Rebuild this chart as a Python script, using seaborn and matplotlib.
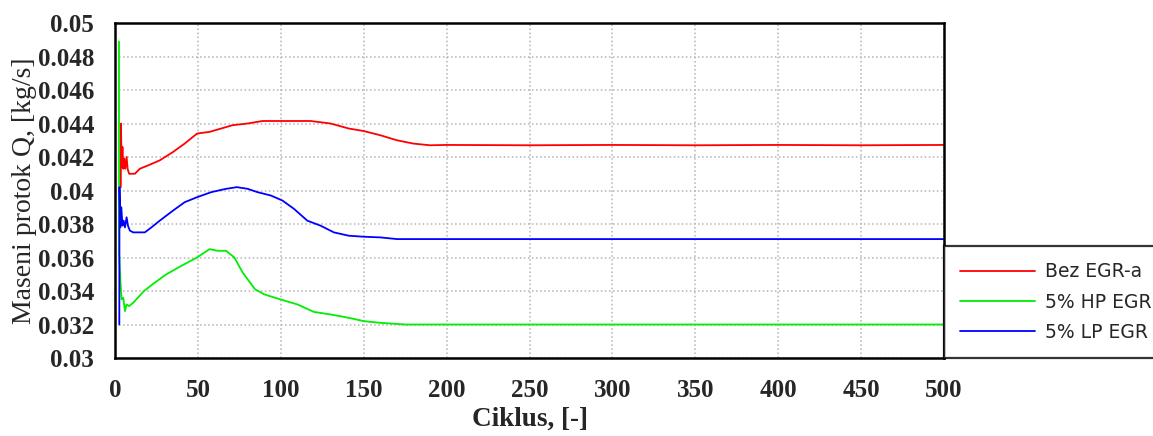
import numpy as np
import pandas as pd
import matplotlib
matplotlib.use("Agg")
import matplotlib.pyplot as plt
from matplotlib.ticker import MultipleLocator
import seaborn as sns

# ---- data ----
red_x = [3.5, 3.6, 4.0, 4.5, 5.0, 5.6, 6.2, 7.0, 7.6, 8.5, 10, 12, 15, 20, 27, 35, 42, 49.5, 57, 64, 71, 80,
         89, 100, 110, 118, 130, 141, 150, 160, 170, 180, 190, 200, 250, 300, 350, 400, 450, 500]
red_y = [0.0402, 0.0440, 0.0414, 0.0426, 0.0413, 0.0419, 0.0413, 0.0420, 0.0413, 0.0410, 0.0410, 0.0410, 0.0413,
         0.0415, 0.0418, 0.0423, 0.0428, 0.0434, 0.0435, 0.0437, 0.0439, 0.0440,
         0.04415, 0.04415, 0.04415, 0.04415, 0.0440, 0.0437, 0.04355, 0.0433, 0.0430, 0.0428, 0.0427, 0.04272,
         0.04270, 0.04272, 0.04270, 0.04272, 0.04270, 0.04272]

green_x = [2.4, 2.45, 2.5, 3.3, 4.0, 5.0, 6.0, 7.0, 8.5, 11, 17.5, 24, 31, 40, 49.5, 57, 62, 67, 72, 77, 84.5,
           90, 101, 110, 120, 130, 141, 150, 160, 175, 190, 200, 250, 300, 350, 400, 450, 500]
green_y = [0.0489, 0.0362, 0.0362, 0.0345, 0.0335, 0.0336, 0.0328, 0.0332, 0.0331, 0.0333, 0.0340, 0.0345,
           0.0350, 0.0355, 0.0360, 0.0365, 0.0364, 0.0364, 0.0360, 0.0351, 0.0341,
           0.0338, 0.03346, 0.0332, 0.03275, 0.0326, 0.0324, 0.0322, 0.0321, 0.0320, 0.0320, 0.0320,
           0.0320, 0.0320, 0.0320, 0.0320, 0.0320, 0.0320]

blue_x = [2.6, 2.7, 3.2, 3.8, 4.5, 5.2, 6.0, 7.0, 7.8, 9, 11, 15, 18, 22, 27, 35, 42, 49.5, 58, 67, 73.5, 80,
          86, 94, 101, 108, 116, 124, 132, 141, 150, 160, 170, 180, 200, 250, 300, 350, 400, 450, 500]
blue_y = [0.0320, 0.0402, 0.0378, 0.0390, 0.0379, 0.0382, 0.0378, 0.0384, 0.0379, 0.0376, 0.0375, 0.0375,
          0.0375, 0.0378, 0.0382, 0.0388, 0.0393, 0.0396, 0.0399, 0.0401, 0.0402, 0.0401,
          0.0399, 0.0397, 0.0394, 0.0389, 0.0382, 0.0379, 0.0375, 0.0373, 0.03724, 0.0372, 0.0371, 0.0371,
          0.0371, 0.0371, 0.0371, 0.0371, 0.0371, 0.0371, 0.0371]

# legend texts as far as they are visible (the box runs off the right edge)
series_names = ["Bez EGR-a", "5% HP EGR", "5% LP EGR"]
series_colors = ["#ff0000", "#00ee00", "#0000ff"]

xtick_vals = [0, 50, 100, 150, 200, 250, 300, 350, 400, 450, 500]
ytick_vals = [0.03, 0.032, 0.034, 0.036, 0.038, 0.04, 0.042, 0.044, 0.046, 0.048, 0.05]
ytick_labels = ["0.03", "0.032", "0.034", "0.036", "0.038", "0.04", "0.042", "0.044", "0.046", "0.048", "0.05"]

sns.set_style("white")
plt.rcParams['font.family'] = ['Liberation Serif', 'DejaVu Serif']

fig = plt.figure(figsize=(11.53, 4.36), dpi=100)
ax = fig.add_axes([115 / 1153, 78 / 436, 829 / 1153, 335 / 436])

for nm, xs, ys, c in zip(series_names, [red_x, green_x, blue_x], [red_y, green_y, blue_y], series_colors):
    d = pd.DataFrame({"x": xs, "y": ys})
    sns.lineplot(data=d, x="x", y="y", ax=ax, color=c, lw=1.3, estimator=None, sort=False, label=nm)

ax.set_xlim(0, 500)
ax.set_ylim(0.03, 0.05)
ax.set_xticks(xtick_vals)
ax.set_xticklabels([str(v) for v in xtick_vals])
ax.set_yticks(ytick_vals)
ax.set_yticklabels(ytick_labels)
ax.xaxis.set_minor_locator(MultipleLocator(12.5))
ax.yaxis.set_minor_locator(MultipleLocator(0.0005))

ax.tick_params(axis='both', which='major', direction='out', length=10, width=1.6, labelsize=18, pad=5)
ax.tick_params(axis='both', which='minor', direction='out', length=5, width=1.4)
for lab in ax.get_xticklabels() + ax.get_yticklabels():
    lab.set_fontweight('bold')

ax.grid(True, which='major', linestyle=':', color='#b4b4b4', lw=1.1)
for s in ax.spines.values():
    s.set_color('black')
    s.set_linewidth(1.8)
    s.set_visible(True)

ax.set_xlabel("Ciklus, [-]", fontsize=19.5, fontweight='bold')
ax.set_ylabel("Maseni protok Q, [kg/s]", fontsize=20)
ax.xaxis.set_label_coords(0.5, -0.146)
ax.yaxis.set_label_coords(-0.094, 0.5)

leg = ax.legend(loc='lower left', bbox_to_anchor=(1.0, 0.0), borderaxespad=0, frameon=True,
                fancybox=False, edgecolor='black', handlelength=4.0, handletextpad=0.53,
                labelspacing=0.6, borderpad=0.86, prop={'family': 'DejaVu Sans', 'size': 13.5})
leg.get_frame().set_linewidth(1.6)
for ln in leg.get_lines():
    ln.set_linewidth(1.3)

fig.savefig("out.png", dpi=100)
